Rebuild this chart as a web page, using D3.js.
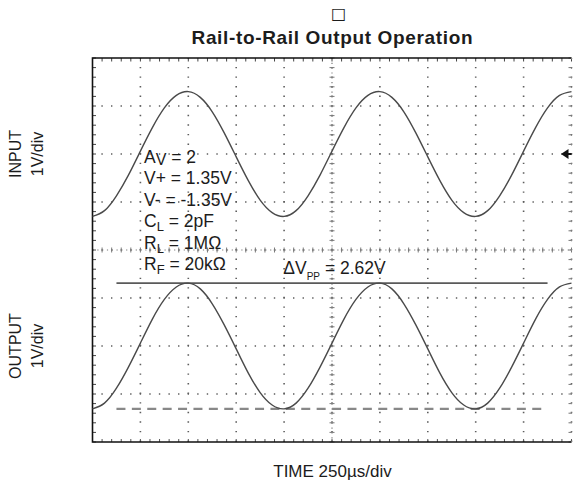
<!DOCTYPE html>
<html><head><meta charset="utf-8">
<script src="https://cdn.jsdelivr.net/npm/d3@7"></script>
<style>
body{margin:0;background:#fff}
svg{display:block}
text{font-family:"Liberation Sans",Arial,Helvetica,sans-serif;fill:#1c1c1c}
</style>
</head><body>
<svg id="c" width="574" height="488"></svg>
<script>
// ---- data (time in µs, voltages in V on a 1 V/div screen, centre line = 0) ----
const timeUs = [0,62.5,125,187.5,250,312.5,375,437.5,500,562.5,625,687.5,750,812.5,875,937.5,
  1000,1062.5,1125,1187.5,1250,1312.5,1375,1437.5,1500,1562.5,1625,1687.5,1750,1812.5,1875,1937.5,
  2000,2062.5,2125,2187.5,2250,2312.5,2375,2437.5,2500];
const inputV = [0.70,0.82,1.13,1.56,2.06,2.55,2.96,3.22,3.30,3.18,2.88,2.44,1.94,1.45,1.04,0.78,
  0.70,0.82,1.13,1.56,2.06,2.55,2.96,3.22,3.30,3.18,2.88,2.44,1.94,1.45,1.04,0.78,
  0.70,0.82,1.13,1.56,2.06,2.55,2.96,3.22,3.30];
const outputV = [-3.31,-3.19,-2.88,-2.44,-1.94,-1.44,-1.03,-0.77,-0.69,-0.81,-1.12,-1.56,-2.06,-2.56,-2.97,-3.23,
  -3.31,-3.19,-2.88,-2.44,-1.94,-1.44,-1.03,-0.77,-0.69,-0.81,-1.12,-1.56,-2.06,-2.56,-2.97,-3.23,
  -3.31,-3.19,-2.88,-2.44,-1.94,-1.44,-1.03,-0.77,-0.69];
const xMajorTicks = [0,250,500,750,1000,1250,1500,1750,2000,2250,2500];
const yMajorTicks = [-4,-3,-2,-1,0,1,2,3,4];
const vppLevels = [-0.69, -3.31];        // output top / bottom rails
const vppSpanUs = [125, 2375];
const inputGroundV = 2;                  // channel-1 reference marker
const titleText = "Rail-to-Rail Output Operation";
const glyphText = "\u25A1";
const xLabel = "TIME 250\u00B5s/div";
const yLabels = [{name:"INPUT", unit:"1V/div", v:2}, {name:"OUTPUT", unit:"1V/div", v:-2}];
const annotLines = [
  ["A","V"," = 2"],
  ["V+ = 1.35V","",""],
  ["V- = -1.35V","",""],
  ["C","L"," = 2pF"],
  ["R","L"," = 1M\u03A9"],
  ["R","F"," = 20k\u03A9"]
];
const vppLabel = ["\u0394V","PP"," = 2.62V"];

// ---- layout ----
const svg = d3.select("#c");
const x = d3.scaleLinear().domain([0,2500]).range([92.5,571.5]);
const y = d3.scaleLinear().domain([-4,4]).range([442,58]);
const minorX = d3.range(0,2500.001,50);
const minorY = d3.range(-4,4.001,0.2);
const step = (x(250)-x(0))/5;

const g = svg.append("g");

// dotted grid
g.selectAll(".vg").data(xMajorTicks.slice(1)).enter().append("line")
  .attr("x1",d=>x(d)).attr("x2",d=>x(d)).attr("y1",y(4)).attr("y2",y(-4))
  .attr("stroke","#5e5e5e").attr("stroke-width",1.6)
  .attr("stroke-dasharray",`1.4 ${step-1.4}`).attr("stroke-dashoffset",0.7);
g.selectAll(".hg").data(yMajorTicks.slice(1,-1)).enter().append("line")
  .attr("x1",x(0)).attr("x2",x(2500)).attr("y1",d=>y(d)).attr("y2",d=>y(d))
  .attr("stroke","#5e5e5e").attr("stroke-width",1.6)
  .attr("stroke-dasharray",`1.4 ${step-1.4}`).attr("stroke-dashoffset",0.7);

// centre axes with finer dots and minor ticks
g.append("line").attr("x1",x(1250)).attr("x2",x(1250)).attr("y1",y(4)).attr("y2",y(-4))
  .attr("stroke","#7a7a7a").attr("stroke-width",1.2).attr("stroke-dasharray","1.2 3.6");
g.append("line").attr("x1",x(0)).attr("x2",x(2500)).attr("y1",y(0)).attr("y2",y(0))
  .attr("stroke","#7a7a7a").attr("stroke-width",1.2).attr("stroke-dasharray","1.2 3.6");
g.selectAll(".cty").data(minorY).enter().append("line")
  .attr("x1",x(1250)-2.5).attr("x2",x(1250)+2.5).attr("y1",d=>y(d)).attr("y2",d=>y(d))
  .attr("stroke","#7a7a7a").attr("stroke-width",1);
g.selectAll(".ctx").data(minorX).enter().append("line")
  .attr("x1",d=>x(d)).attr("x2",d=>x(d)).attr("y1",y(0)-2.5).attr("y2",y(0)+2.5)
  .attr("stroke","#7a7a7a").attr("stroke-width",1);

// border ticks
g.selectAll(".lt").data(minorY).enter().append("line")
  .attr("x1",x(0)).attr("x2",x(0)+3.5).attr("y1",d=>y(d)).attr("y2",d=>y(d))
  .attr("stroke","#444").attr("stroke-width",1);
g.selectAll(".rt").data(minorY).enter().append("line")
  .attr("x1",x(2500)-3).attr("x2",x(2500)).attr("y1",d=>y(d)).attr("y2",d=>y(d))
  .attr("stroke","#777").attr("stroke-width",1);
g.selectAll(".tt").data(minorX).enter().append("line")
  .attr("x1",d=>x(d)).attr("x2",d=>x(d)).attr("y1",y(4)).attr("y2",y(4)+3.5)
  .attr("stroke","#444").attr("stroke-width",1);
g.selectAll(".bt").data(minorX).enter().append("line")
  .attr("x1",d=>x(d)).attr("x2",d=>x(d)).attr("y1",y(-4)-3).attr("y2",y(-4))
  .attr("stroke","#555").attr("stroke-width",1);

// frame (left, top, bottom)
g.append("path")
  .attr("d",`M${x(2500)},${y(4)}H${x(0)}V${y(-4)}H${x(2500)}`)
  .attr("fill","none").attr("stroke","#111").attr("stroke-width",1.6);
g.append("line").attr("x1",x(2500)).attr("x2",x(2500)).attr("y1",y(4)).attr("y2",y(-4))
  .attr("stroke","#888").attr("stroke-width",1).attr("stroke-dasharray",`1.3 ${step-1.3}`);

// rails
g.append("line").attr("x1",x(vppSpanUs[0])).attr("x2",x(vppSpanUs[1]))
  .attr("y1",y(vppLevels[0])).attr("y2",y(vppLevels[0]))
  .attr("stroke","#5a5a5a").attr("stroke-width",1.6);
g.append("line").attr("x1",x(vppSpanUs[0])).attr("x2",x(vppSpanUs[1]))
  .attr("y1",y(vppLevels[1])).attr("y2",y(vppLevels[1]))
  .attr("stroke","#888").attr("stroke-width",2.4).attr("stroke-dasharray","9 6.4");

// waveforms
const line = d3.line().x((d,i)=>x(timeUs[i])).y(d=>y(d)).curve(d3.curveNatural);
[inputV, outputV].forEach(s=>{
  g.append("path").attr("d",line(s)).attr("fill","none")
    .attr("stroke","#4a4a4a").attr("stroke-width",1.4);
});

// ground marker
const gy = y(inputGroundV), gx = x(2500);
g.append("path").attr("d",`M${gx-10.5},${gy}L${gx-3},${gy-5}L${gx-3},${gy+5}Z`).attr("fill","#111");
g.append("line").attr("x1",gx-4).attr("x2",gx).attr("y1",gy).attr("y2",gy).attr("stroke","#111").attr("stroke-width",2);

// title
svg.append("text").attr("x",338.5).attr("y",19).attr("text-anchor","middle")
  .style("font-family","'DejaVu Sans'").style("font-size","16px").text(glyphText);
svg.append("text").attr("x",332).attr("y",43.5).attr("text-anchor","middle")
  .style("font-weight","bold").style("font-size","19px")
  .attr("textLength",281).attr("lengthAdjust","spacing").text(titleText);

// y labels
yLabels.forEach(l=>{
  const cy = y(l.v);
  svg.append("text").attr("transform",`translate(21,${cy}) rotate(-90)`).attr("text-anchor","middle")
    .style("font-size","16px").text(l.name);
  svg.append("text").attr("transform",`translate(43,${cy}) rotate(-90)`).attr("text-anchor","middle")
    .style("font-size","16px").text(l.unit);
});

// x label
svg.append("text").attr("x",332.5).attr("y",477).attr("text-anchor","middle")
  .style("font-size","17px").text(xLabel);

// annotations
annotLines.forEach((a,i)=>{
  const t = svg.append("text").attr("x",144).attr("y",162.7+i*21.5).style("font-size","17.5px");
  t.append("tspan").text(a[0]);
  if(a[1]){
    const sz = a[1]==="V" ? "16px" : "13px";
    t.append("tspan").attr("dy", a[1]==="V"?2.5:4).style("font-size",sz).text(a[1]);
    t.append("tspan").attr("dy", a[1]==="V"?-2.5:-4).text(a[2]);
  }
});
const vt = svg.append("text").attr("x",283.3).attr("y",274.3).style("font-size","17.5px");
vt.append("tspan").text(vppLabel[0]);
vt.append("tspan").attr("dy",6).style("font-size","10px").text(vppLabel[1]);
vt.append("tspan").attr("dy",-6).text(vppLabel[2]);
</script>
</body></html>
